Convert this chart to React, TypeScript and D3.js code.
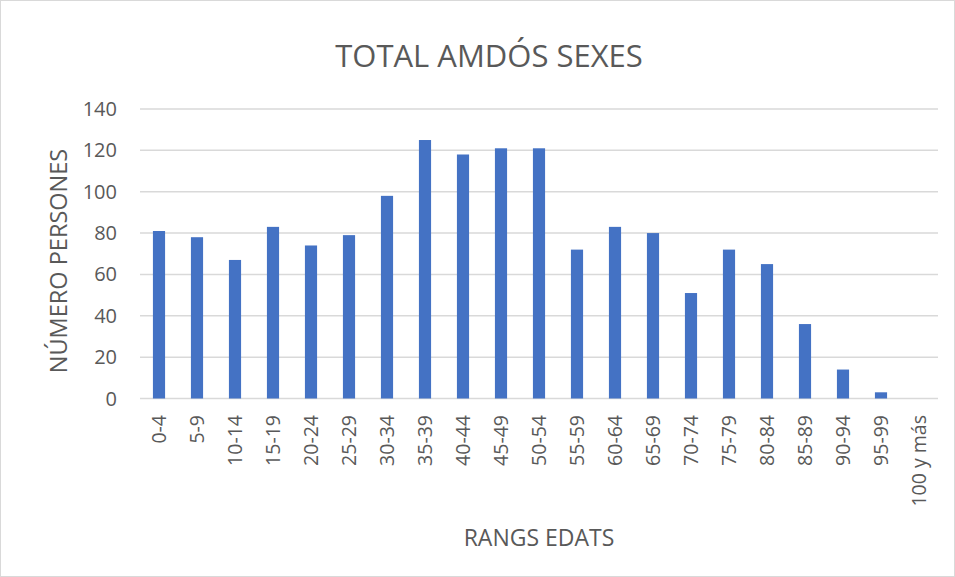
import * as d3 from 'd3';
import { useEffect, useRef } from 'react';

const ranges = ['0-4', '5-9', '10-14', '15-19', '20-24', '25-29', '30-34', '35-39', '40-44', '45-49', '50-54',
  '55-59', '60-64', '65-69', '70-74', '75-79', '80-84', '85-89', '90-94', '95-99', '100 y más'];
const persons = [81, 78, 67, 83, 74, 79, 98, 125, 118, 121, 121, 72, 83, 80, 51, 72, 65, 36, 14, 3, 0];
const yTicks = [0, 20, 40, 60, 80, 100, 120, 140];

const W = 955;
const H = 577;
const font = '"Open Sans", sans-serif';

const App: React.FC = () => {
  const ref = useRef<SVGSVGElement | null>(null);

  useEffect(() => {
    if (!ref.current) return;
    const svg = d3.select(ref.current);
    svg.selectAll('*').remove();

    const left = 140, right = 938, top = 109, bottom = 398.5;

    const x = d3.scaleBand<string>().domain(ranges).range([left, right]).paddingInner(0.68).paddingOuter(0.34);
    const y = d3.scaleLinear().domain([0, 140]).range([bottom, top]);

    svg.append('rect')
      .attr('x', 0.5).attr('y', 0.5).attr('width', W - 1).attr('height', H - 1)
      .attr('fill', '#fff').attr('stroke', '#d9d9d9');

    // grid
    svg.append('g').selectAll('line')
      .data(yTicks)
      .enter().append('line')
      .attr('x1', left).attr('x2', right)
      .attr('y1', d => y(d)).attr('y2', d => y(d))
      .attr('stroke', '#d9d9d9').attr('stroke-width', 1.5);

    svg.append('g').selectAll('text')
      .data(yTicks)
      .enter().append('text')
      .attr('x', 117).attr('y', d => y(d))
      .attr('dy', '0.35em')
      .attr('text-anchor', 'end')
      .attr('fill', '#595959')
      .style('font-family', font).style('font-size', '20px')
      .text(d => d);

    // bars
    svg.append('g').selectAll('rect')
      .data(persons)
      .enter().append('rect')
      .attr('x', (_, i) => x(ranges[i]) ?? 0)
      .attr('width', x.bandwidth())
      .attr('y', d => y(d))
      .attr('height', d => bottom - y(d))
      .attr('fill', '#4472c4');

    // x labels
    svg.append('g').selectAll('text')
      .data(ranges)
      .enter().append('text')
      .attr('transform', d => `translate(${(x(d) ?? 0) + x.bandwidth() / 2},415) rotate(-90)`)
      .attr('dy', '0.35em')
      .attr('text-anchor', 'end')
      .attr('fill', '#595959')
      .style('font-family', font).style('font-size', '19.5px')
      .text(d => d);

    svg.append('text')
      .attr('x', 489).attr('y', 67)
      .attr('text-anchor', 'middle')
      .attr('fill', '#595959')
      .style('font-family', font).style('font-size', '31px')
      .text('TOTAL AMDÓS SEXES');

    svg.append('text')
      .attr('transform', 'translate(67,261) rotate(-90)')
      .attr('text-anchor', 'middle')
      .attr('fill', '#595959')
      .style('font-family', font).style('font-size', '23.5px')
      .text('NÚMERO PERSONES');

    svg.append('text')
      .attr('x', 539).attr('y', 546)
      .attr('text-anchor', 'middle')
      .attr('fill', '#595959')
      .style('font-family', font).style('font-size', '23px')
      .text('RANGS EDATS');
  }, []);

  return (
    <div style={{ position: 'absolute', left: 0, top: 0 }}>
      <svg ref={ref} width={W} height={H} style={{ display: 'block' }} />
    </div>
  );
};

export default App;
